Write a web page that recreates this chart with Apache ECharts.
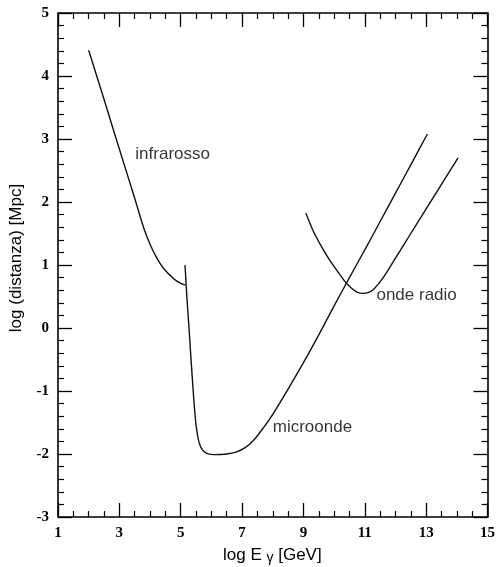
<!DOCTYPE html>
<html>
<head>
<meta charset="utf-8">
<script src="https://cdn.jsdelivr.net/npm/echarts@6/dist/echarts.min.js"></script>
<style>
  html, body { margin: 0; padding: 0; background: #fff; }
  #chart { width: 498px; height: 567px; }
</style>
</head>
<body>
<div id="chart"></div>
<script>
// Gamma-ray horizon: log distance vs log photon energy for the three backgrounds
const infraredCurve = [
  [2.00, 4.41], [2.50, 3.63], [3.00, 2.84], [3.50, 2.06], [3.80, 1.58],
  [4.00, 1.33], [4.20, 1.13], [4.45, 0.94], [4.80, 0.77], [5.00, 0.71],
  [5.15, 0.68]
];
const microwaveCurve = [
  [5.14, 1.00], [5.20, 0.50], [5.27, 0.00], [5.33, -0.45], [5.40, -0.95],
  [5.47, -1.40], [5.53, -1.65], [5.60, -1.82], [5.70, -1.93], [5.85, -1.99],
  [6.10, -2.01], [6.50, -2.00], [6.80, -1.97], [7.10, -1.90], [7.40, -1.77],
  [7.70, -1.58], [8.00, -1.37], [8.50, -0.97], [9.00, -0.55], [9.50, -0.11],
  [10.00, 0.35], [10.50, 0.80], [11.00, 1.24], [11.50, 1.69], [12.00, 2.14],
  [12.50, 2.59], [13.04, 3.08]
];
const radioCurve = [
  [9.08, 1.82], [9.30, 1.56], [9.58, 1.30], [9.85, 1.08], [10.11, 0.90],
  [10.35, 0.74], [10.55, 0.64], [10.75, 0.57], [10.92, 0.55], [11.10, 0.56],
  [11.30, 0.62], [11.60, 0.80], [12.00, 1.11], [12.50, 1.50], [13.00, 1.89],
  [13.50, 2.28], [14.04, 2.70]
];
// curve names placed next to each curve (x, y of the text's left-middle point)
const curveLabels = [
  [3.52, 2.75, 'infrarosso'],
  [8.00, -1.57, 'microonde'],
  [11.38, 0.52, 'onde radio']
];
const xRange = [1, 15];
const yRange = [-3, 5];

const chart = echarts.init(document.getElementById('chart'), null, { renderer: 'canvas' });

const tickFont = {
  fontFamily: 'Liberation Serif', fontWeight: 'bold', fontSize: 15, color: '#000'
};
const frameLine = { show: true, onZero: false, lineStyle: { color: '#000', width: 1.6 } };
const majorTick = { show: true, inside: true, length: 14, lineStyle: { color: '#000', width: 1.3 } };
const minorTick = { show: true, length: 6, lineStyle: { color: '#000', width: 1.2 } };

function xAxisDef(pos, labels) {
  return {
    type: 'value', position: pos, min: xRange[0], max: xRange[1], interval: 2,
    axisLine: frameLine, axisTick: majorTick,
    minorTick: Object.assign({ splitNumber: 4 }, minorTick),
    splitLine: { show: false },
    axisLabel: Object.assign({ show: labels, margin: 9 }, tickFont)
  };
}
function yAxisDef(pos, labels) {
  return {
    type: 'value', position: pos, min: yRange[0], max: yRange[1], interval: 1,
    axisLine: frameLine, axisTick: majorTick,
    minorTick: Object.assign({ splitNumber: 5 }, minorTick),
    splitLine: { show: false },
    axisLabel: Object.assign({ show: labels, margin: 9 }, tickFont)
  };
}

const curveStyle = { color: '#111', width: 1.4 };
function curveSeries(name, data) {
  return {
    name: name, type: 'line', data: data, showSymbol: false, symbol: 'none',
    smooth: 0.25, lineStyle: curveStyle, silent: true
  };
}

chart.setOption({
  animation: false,
  backgroundColor: '#fff',
  grid: { left: 58, right: 2, top: 13, bottom: 50, containLabel: false },
  xAxis: [xAxisDef('bottom', true), xAxisDef('top', false)],
  yAxis: [yAxisDef('left', true), yAxisDef('right', false)],
  graphic: [
    {
      type: 'text', left: 223, top: 547,
      style: {
        rich: {
          t: { fontFamily: 'Liberation Sans', fontSize: 17, fill: '#000' },
          g: { fontFamily: 'Liberation Sans', fontSize: 14, fill: '#000', padding: [6, 0, 0, 0] }
        },
        text: '{t|log E }{g|γ}{t| [GeV]}'
      }
    },
    {
      type: 'text', x: 16, y: 258, rotation: Math.PI / 2,
      style: {
        text: 'log (distanza) [Mpc]', fontFamily: 'Liberation Sans', fontSize: 17,
        fill: '#000', align: 'center', verticalAlign: 'middle'
      }
    }
  ],
  series: [
    curveSeries('infrarosso', infraredCurve),
    curveSeries('microonde', microwaveCurve),
    curveSeries('onde radio', radioCurve),
    {
      type: 'scatter', symbolSize: 0, silent: true,
      data: curveLabels.map(d => ({ value: [d[0], d[1]], name: d[2] })),
      label: {
        show: true, position: 'right', distance: 0,
        formatter: p => p.name,
        fontFamily: 'Liberation Sans', fontSize: 17, color: '#000'
      }
    }
  ]
});
</script>
</body>
</html>
